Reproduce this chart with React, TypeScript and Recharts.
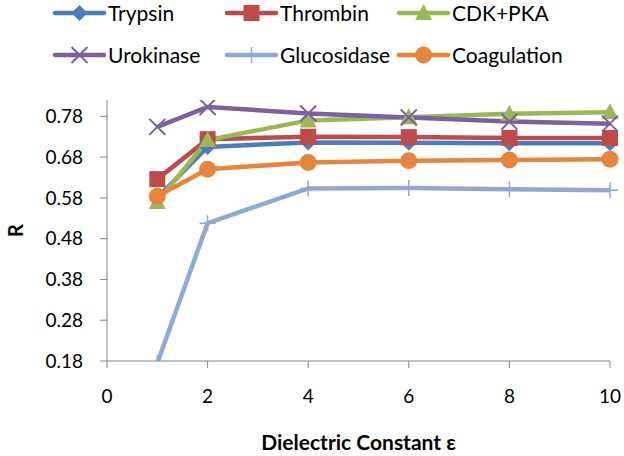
import React from 'react';
import { LineChart, Line, XAxis, YAxis, Label } from 'recharts';

const epsilon = [1, 2, 4, 6, 8, 10];
const trypsin = [0.58, 0.705, 0.716, 0.715, 0.714, 0.714];
const thrombin = [0.626, 0.724, 0.73, 0.729, 0.727, 0.727];
const cdkPka = [0.57, 0.722, 0.77, 0.778, 0.786, 0.79];
const urokinase = [0.754, 0.803, 0.787, 0.777, 0.767, 0.762];
const glucosidase = [0.175, 0.518, 0.603, 0.604, 0.601, 0.599];
const coagulation = [0.584, 0.65, 0.667, 0.671, 0.673, 0.675];

const xTicks = [0, 2, 4, 6, 8, 10];
const yTicks = [0.18, 0.28, 0.38, 0.48, 0.58, 0.68, 0.78];

const series = [
  { key: 'Trypsin', values: trypsin, color: '#4A7EBB', shape: 'diamond' },
  { key: 'Thrombin', values: thrombin, color: '#BE4B48', shape: 'square' },
  { key: 'CDK+PKA', values: cdkPka, color: '#98B954', shape: 'triangle' },
  { key: 'Urokinase', values: urokinase, color: '#7D60A0', shape: 'x' },
  { key: 'Glucosidase', values: glucosidase, color: '#8EA9D6', shape: 'plus' },
  { key: 'Coagulation', values: coagulation, color: '#E8843C', shape: 'circle' },
];

const data = epsilon.map((e, i) => {
  const row: any = { eps: e };
  series.forEach((s) => { row[s.key] = s.values[i]; });
  return row;
});

const FONT = 'Lato, "Open Sans", sans-serif';

function Marker({ shape, color, cx, cy }: { shape: string; color: string; cx: number; cy: number }) {
  if (cx == null || cy == null || isNaN(cx) || isNaN(cy)) return null;
  switch (shape) {
    case 'diamond':
      return <polygon points={`${cx},${cy - 8} ${cx + 8},${cy} ${cx},${cy + 8} ${cx - 8},${cy}`} fill={color} />;
    case 'square':
      return <rect x={cx - 8} y={cy - 8} width={16} height={16} fill={color} />;
    case 'triangle':
      return <polygon points={`${cx},${cy - 9} ${cx + 8.5},${cy + 7} ${cx - 8.5},${cy + 7}`} fill={color} />;
    case 'x':
      return (
        <g stroke={color} strokeWidth={2}>
          <line x1={cx - 8} y1={cy - 8} x2={cx + 8} y2={cy + 8} />
          <line x1={cx - 8} y1={cy + 8} x2={cx + 8} y2={cy - 8} />
        </g>
      );
    case 'plus':
      return (
        <g stroke={color} strokeWidth={1.5}>
          <line x1={cx} y1={cy - 8} x2={cx} y2={cy + 8} />
          <line x1={cx - 8} y1={cy} x2={cx + 8} y2={cy} />
        </g>
      );
    case 'circle':
    default:
      return <circle cx={cx} cy={cy} r={8.5} fill={color} />;
  }
}

const legendPos = [
  { x: 55, y: 13 },
  { x: 227, y: 13 },
  { x: 399, y: 13 },
  { x: 55, y: 55 },
  { x: 227, y: 55 },
  { x: 399, y: 55 },
];

function LegendBox() {
  return (
    <svg width={624} height={80} style={{ position: 'absolute', left: 0, top: 0 }}>
      {series.map((s, i) => {
        const p = legendPos[i];
        return (
          <g key={s.key}>
            <line x1={p.x} y1={p.y} x2={p.x + 49} y2={p.y} stroke={s.color} strokeWidth={4.5} strokeLinecap="round" />
            <Marker shape={s.shape} color={s.color} cx={p.x + 24.5} cy={p.y} />
            <text x={p.x + 53} y={p.y} dy="0.36em" fontSize={21} fontFamily={FONT} fill="#000">{s.key}</text>
          </g>
        );
      })}
    </svg>
  );
}

const RLabel = (props: any) => {
  const vb = props.viewBox || { x: 0, y: 100, width: 107, height: 261 };
  const cy = vb.y + vb.height / 2;
  const cx = 15;
  return (
    <text x={cx} y={cy} transform={`rotate(-90 ${cx} ${cy})`} textAnchor="middle" dominantBaseline="central" fontSize={20} fontWeight="bold" fontFamily={FONT} fill="#000">R</text>
  );
};

export default function App() {
  return (
    <div style={{ position: 'absolute', left: 0, top: 0, width: 624, height: 456, background: '#fff' }}>
      <LineChart width={624} height={456} data={data} margin={{ top: 100, right: 14, bottom: 0, left: 0 }}>
        <XAxis
          dataKey="eps"
          type="number"
          domain={[0, 10]}
          ticks={xTicks}
          height={95}
          stroke="#868686"
          tickSize={7}
          tickMargin={22}
          tick={{ fill: '#000', fontSize: 19, fontFamily: FONT }}
          tickLine={{ stroke: '#868686' }}
          interval={0}
        >
          <Label value="Dielectric Constant ε" position="insideBottom" offset={6} fontSize={21} fontWeight="bold" fontFamily={FONT} fill="#000" />
        </XAxis>
        <YAxis
          type="number"
          domain={[0.18, 0.82]}
          ticks={yTicks}
          allowDataOverflow
          width={107}
          stroke="#868686"
          tickSize={7}
          tickMargin={17}
          tick={{ fill: '#000', fontSize: 19, fontFamily: FONT }}
          tickFormatter={(v: number) => v.toFixed(2)}
          interval={0}
        >
          <Label content={RLabel} />
        </YAxis>
        {series.map((s) => (
          <Line
            key={s.key}
            dataKey={s.key}
            stroke={s.color}
            strokeWidth={4.5}
            isAnimationActive={false}
            dot={(props: any) => <Marker key={`${s.key}-${props.index}`} shape={s.shape} color={s.color} cx={props.cx} cy={props.cy} />}
            activeDot={false}
          />
        ))}
      </LineChart>
      <LegendBox />
    </div>
  );
}
